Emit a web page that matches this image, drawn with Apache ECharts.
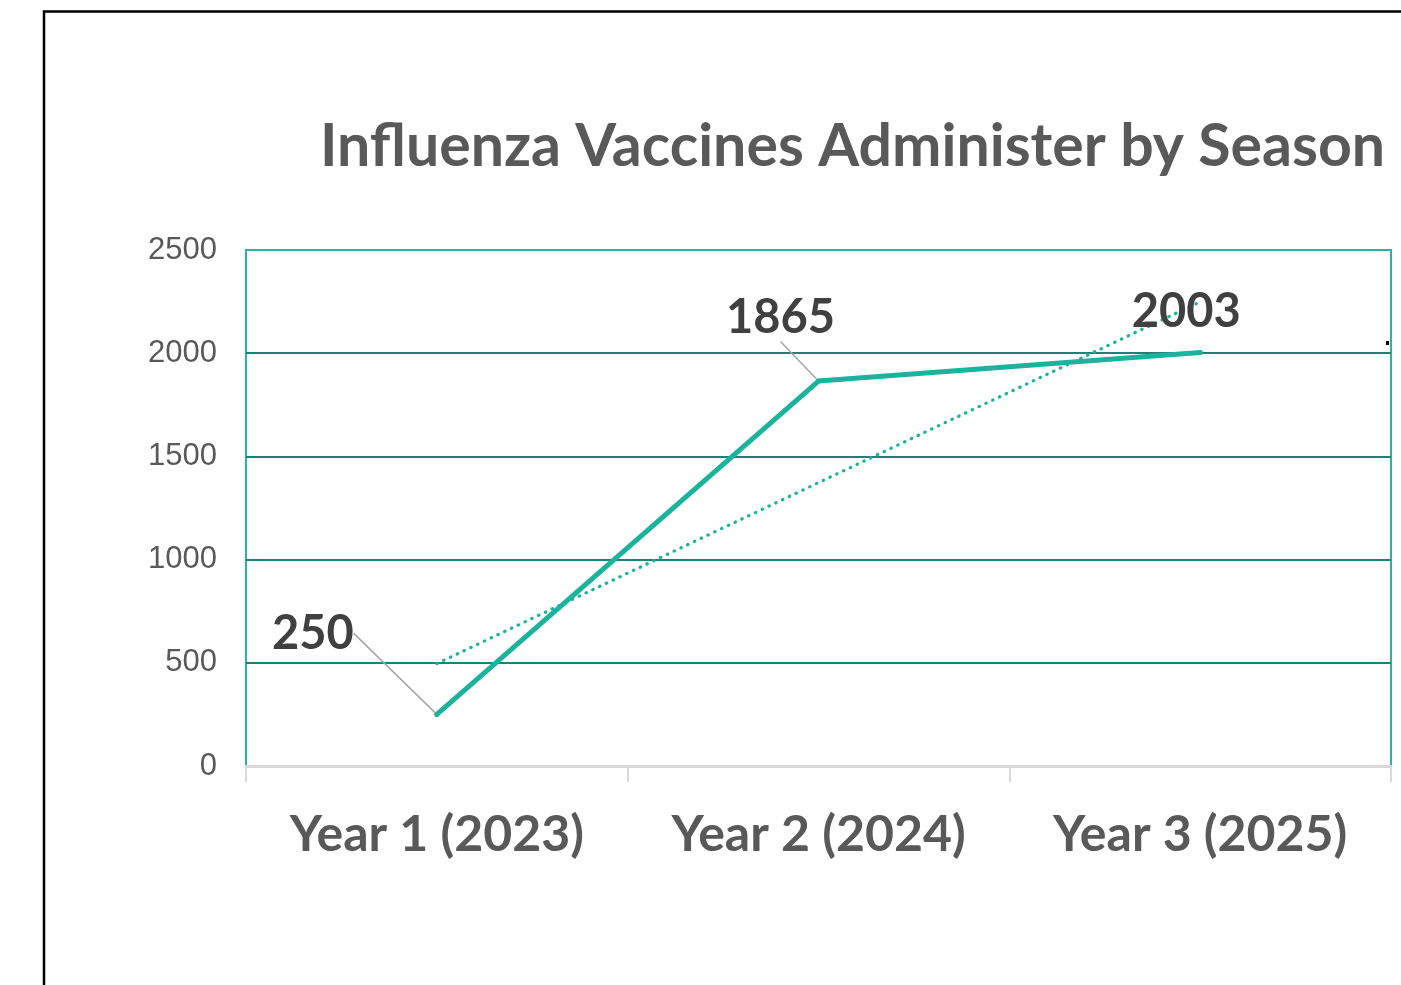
<!DOCTYPE html>
<html>
<head>
<meta charset="utf-8">
<script src="https://cdn.jsdelivr.net/npm/echarts@6/dist/echarts.min.js"></script>
<style>
  html, body { margin: 0; padding: 0; background: #fff; }
  #main { width: 1401px; height: 985px; }
</style>
</head>
<body>
<div id="main"></div>
<script>
// chart data
const seasons = ['Year 1 (2023)', 'Year 2 (2024)', 'Year 3 (2025)'];
const vaccines = [250, 1865, 2003];
const trendValues = [496, 1373, 2249]; // dotted trend line
const yTicks = [0, 500, 1000, 1500, 2000, 2500];

const teal = '#1ab39d';
const gridTeal = '#1b8276';
const borderTeal = '#2ab5a3';
const grayText = '#595959';

let myChart = echarts.init(document.getElementById('main'));

// label nudges (dx, dy) per point
const labelShift = [[-124, -50], [-38, -32], [-14, -10]];

myChart.setOption({
    backgroundColor: '#fff',
    animation: false,
    title: {
        text: 'Influenza Vaccines Administer by Season',
        left: 315,
        top: 112,
        textStyle: {
            fontFamily: 'Lato',
            fontWeight: 'bold',
            fontSize: 59,
            color: grayText
        }
    },
    graphic: [{
        type: 'rect',
        left: 41.5,
        top: 9,
        shape: { width: 1500, height: 1100 },
        style: { fill: 'none', stroke: '#000', lineWidth: 2.5 },
        silent: true,
        z: 100
    }, {
        // cut-off legend mark at the right edge
        type: 'rect',
        left: 1386,
        top: 341,
        shape: { width: 3, height: 4 },
        style: { fill: '#000' },
        silent: true
    }],
    grid: {
        left: 246,
        right: 10,
        top: 250,
        bottom: 219,
        show: true,
        borderColor: borderTeal,
        borderWidth: 2,
        backgroundColor: 'transparent'
    },
    xAxis: {
        type: 'category',
        data: seasons,
        boundaryGap: true,
        axisLine: { lineStyle: { color: '#d9d9d9', width: 3 } },
        axisTick: { show: true, interval: 0, length: 16, lineStyle: { color: '#d9d9d9', width: 2 } },
        axisLabel: {
            interval: 0,
            hideOverlap: false,
            margin: 44,
            fontFamily: 'Lato',
            fontWeight: 'bold',
            fontSize: 50,
            color: grayText
        },
        splitLine: { show: false }
    },
    yAxis: {
        type: 'value',
        min: yTicks[0],
        max: yTicks[yTicks.length - 1],
        interval: yTicks[1] - yTicks[0],
        axisLine: { show: false },
        axisTick: { show: false },
        axisLabel: {
            margin: 29,
            fontFamily: 'Liberation Sans',
            fontSize: 31,
            color: grayText,
            formatter: (v) => String(v)
        },
        splitLine: {
            lineStyle: {
                color: ['transparent', gridTeal, gridTeal, gridTeal, gridTeal, 'transparent'],
                width: 2
            }
        }
    },
    series: [{
        name: 'Vaccines',
        type: 'line',
        data: vaccines.map((v, i) => i === 2 ? { value: v, labelLine: { show: false } } : v),
        symbol: 'circle',
        symbolSize: 5,
        itemStyle: { color: teal },
        lineStyle: { color: teal, width: 5, cap: 'round', join: 'round' },
        z: 3,
        label: {
            show: true,
            position: 'top',
            fontFamily: 'Lato',
            fontWeight: 'bold',
            fontSize: 47,
            color: '#404040'
        },
        labelLine: {
            show: true,
            lineStyle: { color: '#a6a6a6', width: 1.5 }
        },
        labelLayout: function (params) {
            const s = labelShift[params.dataIndex];
            return { dx: s[0], dy: s[1] };
        }
    }, {
        name: 'Trend',
        type: 'line',
        data: trendValues,
        symbol: 'none',
        silent: true,
        z: 2,
        lineStyle: { color: teal, width: 3.2, type: [0.5, 7], cap: 'round' }
    }]
});

window.addEventListener('resize', () => myChart.resize());
</script>
</body>
</html>
